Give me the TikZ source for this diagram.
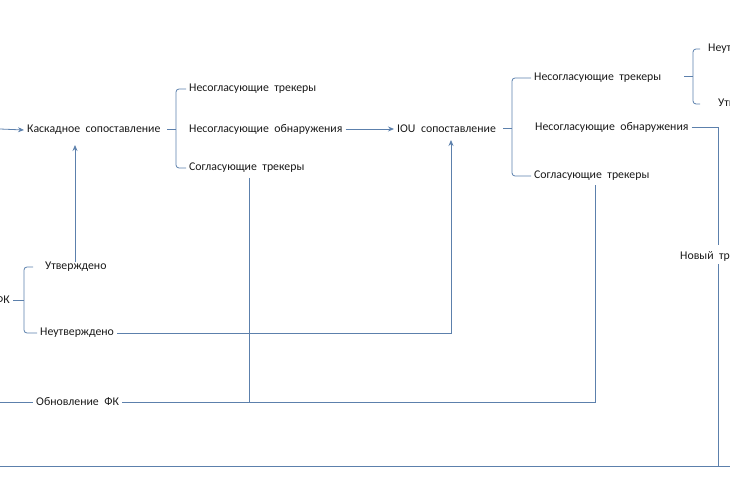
\documentclass[tikz,border=0pt]{standalone}
\usepackage{fontspec}
\setmainfont{Carlito}
\usetikzlibrary{arrows.meta}
\definecolor{ln}{RGB}{92,128,172}
\definecolor{tx}{RGB}{25,25,25}
\newcommand{\lblfnt}{\fontsize{11.8}{13}\selectfont\spaceskip=5.5pt plus 1pt\relax}
\tikzset{
  lbl/.style={anchor=west,inner xsep=3pt,inner ysep=1pt,text=tx,font=\lblfnt},
  con/.style={draw=ln,line width=0.8pt},
  arr/.style={con,-{Stealth[length=6pt,width=5pt]}},
  br/.style={con,rounded corners=3pt}
}
\begin{document}
\begin{tikzpicture}[x=1pt,y=-1pt]
\useasboundingbox (0,0) rectangle (730,486);
\clip (0,0) rectangle (730,486);
% nodes
\node[lbl] (casc) at (24,130) {Каскадное сопоставление};
\node[lbl] (n1a) at (186,89) {Несогласующие трекеры};
\node[lbl] (n1b) at (186,129) {Несогласующие обнаружения};
\node[lbl] (n1c) at (186,168) {Согласующие трекеры};
\node[lbl] (iou) at (394,129) {IOU сопоставление};
\node[lbl] (n2a) at (531,78) {Несогласующие трекеры};
\node[lbl] (n2b) at (532,127) {Несогласующие обнаружения};
\node[lbl] (n2c) at (531,176) {Согласующие трекеры};
\node[lbl] (n3a) at (705,49) {Неутверждено};
\node[lbl] (n3b) at (715,104) {Утверждено};
\node[lbl] (new) at (677,256) {Новый трекер};
\node[lbl,anchor=east] (fk) at (13,300) {ФК};
\node[lbl] (utv) at (42,267) {Утверждено};
\node[lbl] (neutv) at (37,333) {Неутверждено};
\node[lbl] (upd) at (33,402) {Обновление ФК};
% free ends
\coordinate (inL) at (0,129);
\coordinate (updL) at (0,402);
\coordinate (botL) at (0,466);
\coordinate (botR) at (730,466);
\coordinate (b1) at (176,129);
\coordinate (b2) at (512,128);
\coordinate (b3) at (693,76);
\coordinate (b4) at (24,300);
\coordinate (iouIn) at (451,140);
% connectors
\draw[arr] (inL) -- (casc.west);
\draw[br] (n1a.west) -| (b1) |- (n1c.west);
\draw[con] ([xshift=-9pt]b1) -- (b1);
\draw[arr] (n1b.east) -- (iou.west);
\draw[br] (n2a.west) -| (b2) |- (n2c.west);
\draw[con] ([xshift=-9pt]b2) -- (b2);
\draw[br] ([xshift=7pt]b3 |- n3a.west) -| (b3) |- ([xshift=7pt]b3 |- n3b.west);
\draw[con] ([xshift=-9pt]b3) -- (b3);
\draw[br] ([xshift=9pt]b4 |- utv.west) -| (b4) |- (neutv.west);
\draw[con] (fk.east) -- (b4);
\draw[arr] (75,262) -- (75,145);
\draw[arr] (neutv.east) -| (iouIn);
\draw[con] (updL) -- (upd.west);
\draw[con] (upd.east) -| (595,185);
\draw[con] (249,178) -- (249,402);
\draw[con] (n2b.east) -| (718,245);
\draw[con] (718,264) -- (718,466);
\draw[con] (botL) -- (botR);
\end{tikzpicture}
\end{document}
